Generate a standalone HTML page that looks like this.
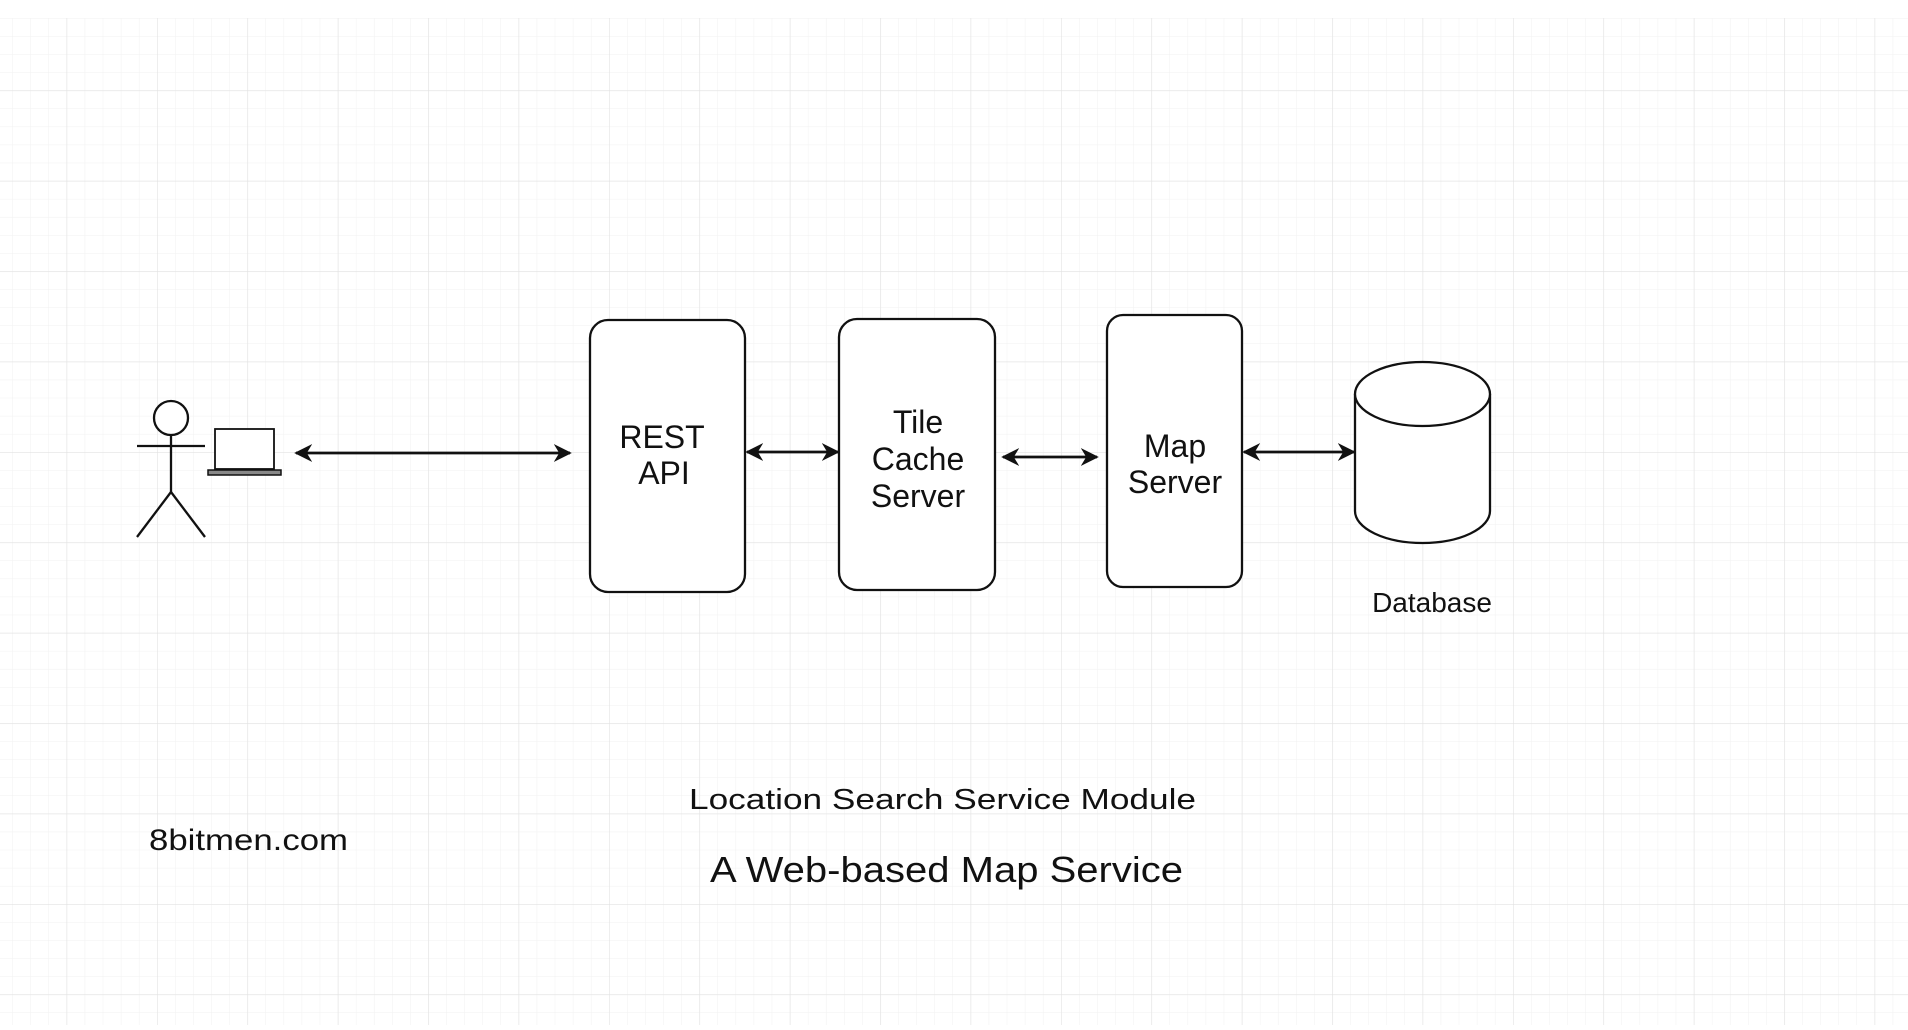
<!DOCTYPE html>
<html><head><meta charset="utf-8"><style>
html,body{margin:0;padding:0;background:#fff;}
svg{display:block;}
text{font-family:"Liberation Sans",sans-serif;fill:#111;}
</style></head><body>
<svg width="1908" height="1030" viewBox="0 0 1908 1030" xmlns="http://www.w3.org/2000/svg">
<defs>
<pattern id="minor" x="66.6" y="0" width="18.08" height="18.08" patternUnits="userSpaceOnUse">
<path d="M0 0H18.08M0 0V18.08" stroke="#f1f1f1" stroke-width="1" fill="none"/>
</pattern>
<pattern id="major" x="66.6" y="0" width="90.4" height="90.4" patternUnits="userSpaceOnUse">
<path d="M0 0H90.4M0 0V90.4" stroke="#e2e2e2" stroke-width="1.2" fill="none"/>
</pattern>
<marker id="ah" viewBox="0 0 10 10" refX="9" refY="5" markerWidth="18" markerHeight="18" markerUnits="userSpaceOnUse" orient="auto-start-reverse">
<path d="M0 0L10 5L0 10L3 5Z" fill="#111"/>
</marker>
</defs>
<rect x="0" y="18" width="1908" height="1007" fill="url(#minor)"/>
<rect x="0" y="18" width="1908" height="1007" fill="url(#major)"/>

<g stroke="#111" stroke-width="2.3" fill="none">
<circle cx="171" cy="418" r="17" fill="#fff"/>
<line x1="137" y1="446" x2="205" y2="446"/>
<line x1="171" y1="435" x2="171" y2="492"/>
<line x1="171" y1="492" x2="137" y2="537"/>
<line x1="171" y1="492" x2="205" y2="537"/>
<rect x="215" y="429" width="59" height="40" fill="#fff" stroke-width="1.8"/>
<rect x="208" y="470" width="73" height="5" fill="#888" stroke-width="1.5"/>

<rect x="590" y="320" width="155" height="272" rx="18" fill="#fff"/>
<rect x="839" y="319" width="156" height="271" rx="18" fill="#fff"/>
<rect x="1107" y="315" width="135" height="272" rx="16" fill="#fff"/>
<path d="M1355 394 V511 A67.5 32 0 0 0 1490 511 V394" fill="#fff"/>
<ellipse cx="1422.5" cy="394" rx="67.5" ry="32" fill="#fff"/>

<g stroke-width="2.8">
<line x1="296" y1="453" x2="570" y2="453" marker-start="url(#ah)" marker-end="url(#ah)"/>
<line x1="747" y1="452" x2="838" y2="452" marker-start="url(#ah)" marker-end="url(#ah)"/>
<line x1="1003" y1="457" x2="1097" y2="457" marker-start="url(#ah)" marker-end="url(#ah)"/>
<line x1="1244" y1="452" x2="1354" y2="452" marker-start="url(#ah)" marker-end="url(#ah)"/>
</g>
</g>

<g font-size="32" text-anchor="middle">
<text x="662" y="448">REST</text>
<text x="664" y="484">API</text>
<text x="918" y="433">Tile</text>
<text x="918" y="470">Cache</text>
<text x="918" y="507">Server</text>
<text x="1175" y="457">Map</text>
<text x="1175" y="493">Server</text>
</g>
<text x="1432" y="612" font-size="28" text-anchor="middle">Database</text>
<text x="689" y="809" font-size="29" textLength="507" lengthAdjust="spacingAndGlyphs">Location Search Service Module</text>
<text x="710" y="882" font-size="36" textLength="473" lengthAdjust="spacingAndGlyphs">A Web-based Map Service</text>
<text x="149" y="850" font-size="30" textLength="199" lengthAdjust="spacingAndGlyphs">8bitmen.com</text>
</svg>
</body></html>
